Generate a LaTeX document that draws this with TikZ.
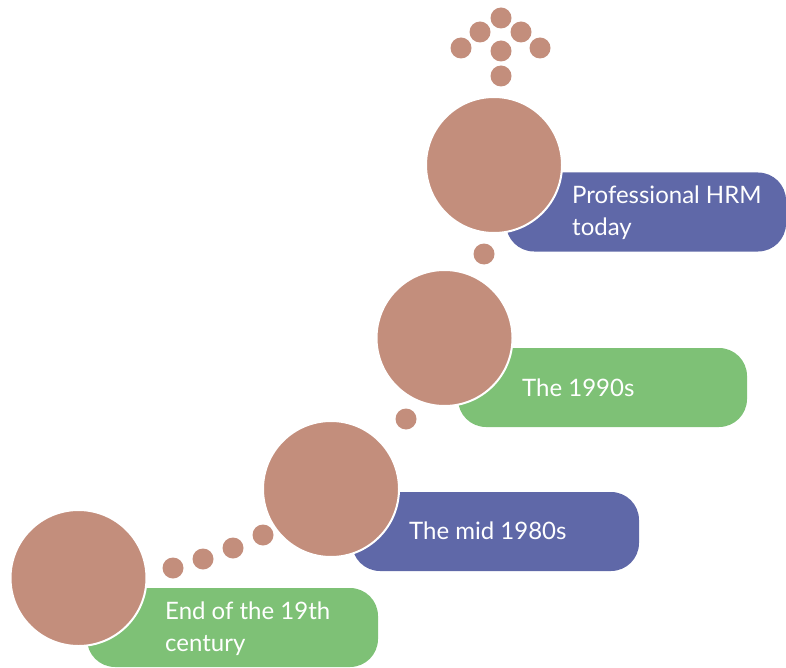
\documentclass[tikz,border=0pt]{standalone}
\usepackage{fontspec}
\setmainfont{Lato}
\definecolor{brownc}{HTML}{C38E7C}
\definecolor{greenc}{HTML}{7EC176}
\definecolor{bluec}{HTML}{5F68A8}
\begin{document}
\begin{tikzpicture}[x=1pt,y=-1pt,
  bigdot/.style={circle,fill=brownc,draw=white,line width=2pt,minimum size=136pt,inner sep=0pt},
  smalldot/.style={circle,fill=brownc,minimum size=21pt,inner sep=0pt},
  tbox/.style={rectangle,rounded corners=28pt,minimum height=79pt,inner sep=0pt},
  ttext/.style={anchor=west,text=white,align=left,inner sep=0pt,font=\fontsize{24}{32}\selectfont}]
\useasboundingbox (0,0) rectangle (786,668);
% boxes
\node[tbox,fill=greenc,minimum width=291pt] (b1) at (232.5,627.5) {};
\node[tbox,fill=bluec,minimum width=287pt] (b2) at (495.5,531.5) {};
\node[tbox,fill=greenc,minimum width=289pt] (b3) at (602.5,387.5) {};
\node[tbox,fill=bluec,minimum width=280pt] (b4) at (646,212) {};
% texts
\node[ttext] (t1) at (165,629) {End of the 19th\\century};
\node[ttext] (t2) at (409,531) {The mid 1980s};
\node[ttext] (t3) at (522,388) {The 1990s};
\node[ttext] (t4) at (572,213) {Professional HRM\\today};
% big circles
\node[bigdot] (c1) at (78.5,578) {};
\node[bigdot] (c2) at (331,489) {};
\node[bigdot] (c3) at (444.5,338) {};
\node[bigdot] (c4) at (494,165) {};
% small dots
\node[smalldot] (d1) at (173,568) {};
\node[smalldot] (d2) at (203,559) {};
\node[smalldot] (d3) at (233,548) {};
\node[smalldot] (d4) at (263,535) {};
\node[smalldot] (d5) at (406,419) {};
\node[smalldot] (d6) at (484,254) {};
% arrow of dots
\node[smalldot] (a1) at (501,18) {};
\node[smalldot] (a2) at (480,32) {};
\node[smalldot] (a3) at (521,32) {};
\node[smalldot] (a4) at (461,48) {};
\node[smalldot] (a5) at (501,51) {};
\node[smalldot] (a6) at (540,48) {};
\node[smalldot] (a7) at (501,76) {};
\end{tikzpicture}
\end{document}
